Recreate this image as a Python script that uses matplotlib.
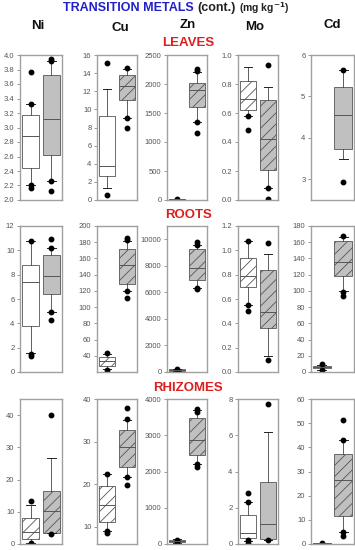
import numpy as np
import matplotlib
matplotlib.use('Agg')
import matplotlib.pyplot as plt
from matplotlib.ticker import FormatStrFormatter

plt.rcParams['font.family'] = ['Liberation Sans', 'DejaVu Sans']
plt.rcParams['hatch.linewidth'] = 0.6

# DATA  (box stats: whisker low, q1, median, q3, whisker high ; dots)
# ///////////////////////////////////////////////////////////////
metals = ['Ni', 'Cu', 'Zn', 'Mo', 'Cd']
tissues = ['LEAVES', 'ROOTS', 'RHIZOMES']

leaves_ni = [([2.20, 2.44, 2.88, 3.17, 3.32], [3.77, 3.32, 2.21, 2.17]),
             ([2.26, 2.62, 3.12, 3.73, 3.92], [3.95, 3.92, 2.26, 2.12])]
leaves_cu = [([1.3, 2.7, 3.7, 9.3, 12.2], [15.1, 0.5]),
             ([9.1, 11.0, 12.6, 13.8, 14.5], [14.6, 9.1, 8.0])]
leaves_zn = [([2, 6, 10, 14, 20], [18, 4]),
             ([1340, 1600, 1890, 2010, 2200], [2260, 2230, 1340, 1150])]
leaves_mo = [([0.58, 0.62, 0.70, 0.82, 0.92], [0.58, 0.48]),
             ([0.08, 0.21, 0.42, 0.69, 0.78], [0.93, 0.08, 0.01])]
leaves_cd = [None,
             ([3.48, 3.73, 4.56, 5.22, 5.65], [5.65, 2.93])]

roots_ni = [([1.6, 3.8, 7.4, 8.8, 10.8], [10.8, 1.5, 1.3]),
            ([4.9, 6.4, 7.9, 9.6, 10.2], [10.9, 10.2, 4.9, 4.3])]
roots_cu = [([24, 27, 33, 39, 42], [43, 23]),
            ([120, 129, 152, 172, 182], [185, 183, 120, 111])]
roots_zn = [([60, 100, 150, 200, 250], [260, 50]),
            ([6350, 6950, 7850, 9300, 9550], [9800, 9600, 6300, 6250])]
roots_mo = [([0.55, 0.70, 0.79, 0.94, 1.08], [1.08, 0.55, 0.50]),
            ([0.13, 0.36, 0.49, 0.84, 0.97], [1.06, 0.10])]
roots_cd = [([3, 5, 6, 7, 9], [10, 2]),
            ([100, 118, 136, 161, 167], [168, 99, 94])]

rhiz_ni = [([0.3, 1.5, 3.8, 8.2, 12.1], [13.5, 0.3]),
           ([3.3, 3.5, 10.1, 16.4, 26.6], [40.0, 3.2])]
rhiz_cu = [([9.0, 11.1, 15.1, 19.7, 22.4], [22.4, 9.0, 8.6]),
           ([21.8, 24.1, 28.8, 32.8, 35.0], [37.8, 35.2, 21.8, 19.9])]
rhiz_zn = [([40, 60, 80, 110, 130], [120, 50]),
           ([2200, 2450, 2880, 3480, 3700], [3720, 3650, 2200, 2130])]
rhiz_mo = [([0.15, 0.35, 0.6, 1.6, 2.3], [2.8, 2.3, 0.2, 0.05]),
           ([0.2, 0.3, 1.1, 3.4, 6.2], [7.7, 0.2])]
rhiz_cd = [([0.1, 0.2, 0.3, 0.4, 0.5], [0.3]),
           ([5.0, 11.5, 26.5, 37.3, 43.0], [51.3, 43.0, 5.0, 3.5])]

# hatched or not (white box, gray box)
leaves_hatch = [(False, False), (False, True), (False, True), (True, True), (False, False)]
roots_hatch = [(False, False), (True, True), (False, True), (True, True), (False, True)]
rhiz_hatch = [(True, True), (True, True), (False, True), (False, False), (False, True)]

# y limits and ticks (start, stop, step)
leaves_ylim = [(2.0, 4.0), (0, 16), (0, 2500), (0, 1.0), (2.5, 6)]
leaves_ticks = [(2.0, 4.0, 0.2), (0, 16, 2), (0, 2500, 500), (0, 1.0, 0.2), (3, 6, 1)]
roots_ylim = [(0, 12), (20, 200), (0, 11000), (0, 1.2), (0, 180)]
roots_ticks = [(0, 12, 2), (40, 200, 20), (0, 10000, 2000), (0, 1.2, 0.2), (0, 180, 20)]
rhiz_ylim = [(0, 45), (6, 40), (0, 4000), (0, 8), (0, 60)]
rhiz_ticks = [(0, 40, 10), (10, 40, 10), (0, 4000, 1000), (0, 8, 2), (0, 60, 10)]

panels = [
    [leaves_ni, leaves_cu, leaves_zn, leaves_mo, leaves_cd],
    [roots_ni, roots_cu, roots_zn, roots_mo, roots_cd],
    [rhiz_ni, rhiz_cu, rhiz_zn, rhiz_mo, rhiz_cd],
]
hatches = [leaves_hatch, roots_hatch, rhiz_hatch]
ylims = [leaves_ylim, roots_ylim, rhiz_ylim]
ticks = [leaves_ticks, roots_ticks, rhiz_ticks]

# LAYOUT (pixels)
# ///////////////////////////////////////////////////////////////
W, H = 355, 550
col_x = [(20, 62), (97, 137), (167, 207), (238, 278), (311, 354)]
row_y = [(55, 200), (226, 372), (399, 544)]
head_x = [38, 120, 188, 255, 332]
head_y = [26, 28, 25, 27, 25]
label_y = [43, 215, 388]

fig = plt.figure(figsize=(W / 100, H / 100), dpi=100)

BOX_EDGE = '#555555'
GRAY = '#c0c0c0'

for r in range(3):
    for c in range(5):
        x0, x1 = col_x[c]
        y0, y1 = row_y[r]
        ax = fig.add_axes([x0 / W, 1 - y1 / H, (x1 - x0) / W, (y1 - y0) / H])
        for i, box in enumerate(panels[r][c]):
            if box is None:
                continue
            st, dots = box
            stats = [dict(whislo=st[0], q1=st[1], med=st[2], q3=st[3],
                          whishi=st[4], fliers=dots)]
            b = ax.bxp(stats, positions=[i + 1], widths=0.84, capwidths=0.4,
                       patch_artist=True, showfliers=True, manage_ticks=False,
                       boxprops=dict(edgecolor=BOX_EDGE, linewidth=0.6),
                       medianprops=dict(color=BOX_EDGE, linewidth=0.7),
                       whiskerprops=dict(color='#444444', linewidth=0.6),
                       capprops=dict(color='#222222', linewidth=0.7),
                       flierprops=dict(marker='o', markersize=3.2,
                                       markerfacecolor='black',
                                       markeredgecolor='black'))
            patch = b['boxes'][0]
            patch.set_facecolor('white' if i == 0 else GRAY)
            if hatches[r][c][i]:
                patch.set_hatch('///')
        ax.set_xlim(0.5, 2.5)
        ax.set_ylim(*ylims[r][c])
        t0, t1, step = ticks[r][c]
        ax.set_yticks(np.arange(t0, t1 + step / 2, step))
        ax.yaxis.set_major_formatter(FormatStrFormatter('%.1f' if step < 1 else '%d'))
        ax.set_xticks([])
        ax.tick_params(axis='y', direction='out', length=2.5, width=0.6,
                       colors='#888888', labelcolor='#555555', labelsize=5.5, pad=1.5)
        for s in ax.spines.values():
            s.set_color('#a0a0a0')
            s.set_linewidth(1.0)

# HEADERS
# ///////////////////////////////////////////////////////////////
for c, m in enumerate(metals):
    fig.text(head_x[c] / W, 1 - head_y[c] / H, m, ha='center', va='center',
             fontsize=9.5, fontweight='bold', color='#111111')

for r, t in enumerate(tissues):
    fig.text(188 / W, 1 - label_y[r] / H, t, ha='center', va='center',
             fontsize=9.5, fontweight='bold', color='#dd1f1f')

renderer = fig.canvas.get_renderer()
ty = 1 - 8 / H
t1 = fig.text(63 / W, ty, 'TRANSITION METALS', ha='left', va='center',
              fontsize=9, fontweight='bold', color='#2020c8')
bb = t1.get_window_extent(renderer)
t2 = fig.text(bb.x1 / W + 4 / W, ty, '(cont.)', ha='left', va='center',
              fontsize=9, fontweight='bold', color='#222222')
bb = t2.get_window_extent(renderer)
fig.text(bb.x1 / W + 3 / W, ty, r'(mg kg$^{\mathbf{-1}}$)', ha='left', va='center',
         fontsize=7.5, fontweight='bold', color='#222222')

fig.savefig('out.png', dpi=100)
